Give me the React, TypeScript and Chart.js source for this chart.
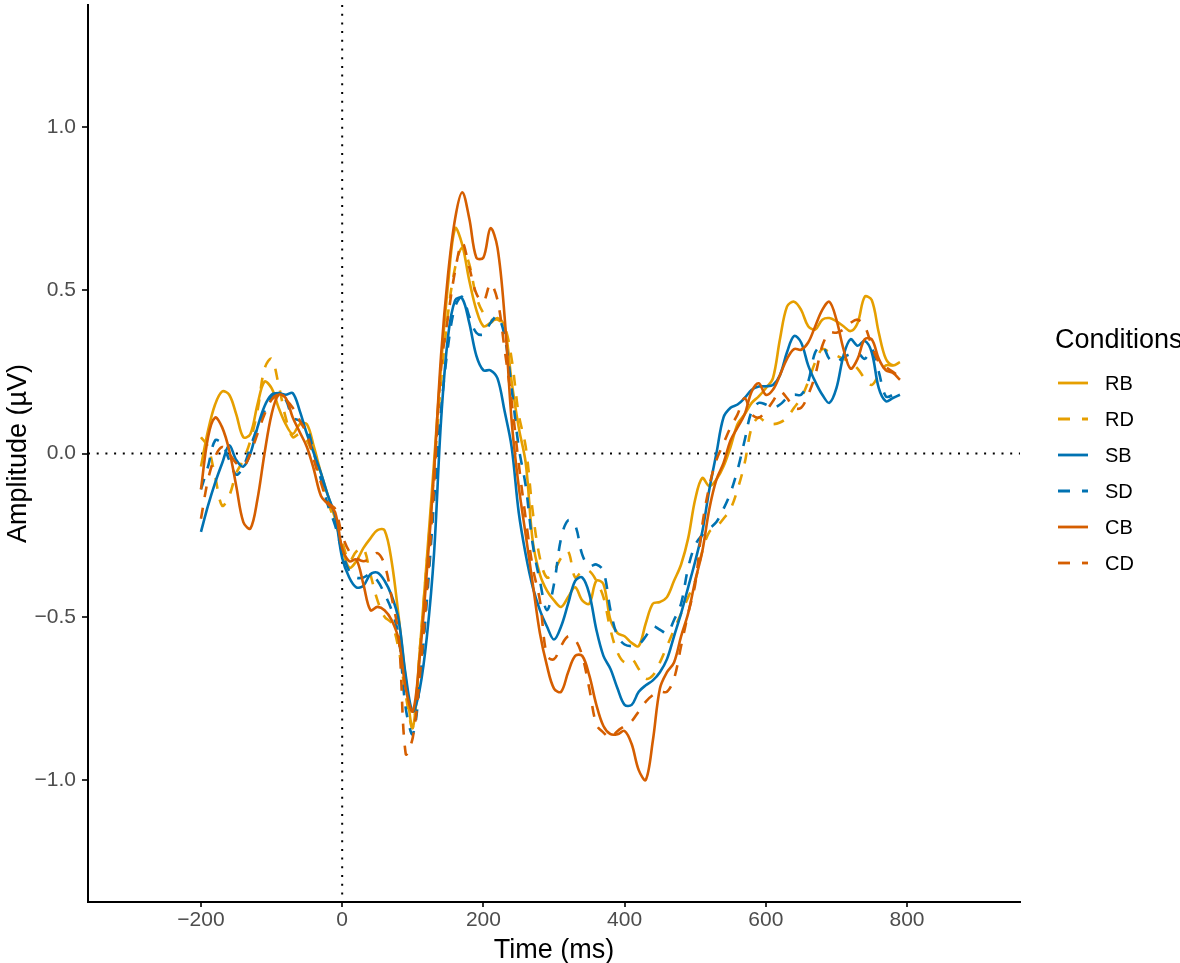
import { useEffect, useRef } from "react";
import { Chart, registerables } from "chart.js";

Chart.register(...registerables);

// Time grid (ms)
const times: number[] = [
  -200, -190, -180, -170, -160, -150, -140, -130, -120, -110,
  -100, -90, -80, -70, -60, -50, -40, -30, -20, -10,
  0, 10, 20, 30, 40, 50, 60, 70, 80, 90,
  100, 110, 120, 130, 140, 150, 160, 170, 180, 190,
  200, 210, 220, 230, 240, 250, 260, 270, 280, 290,
  300, 310, 320, 330, 340, 350, 360, 370, 380, 390,
  400, 410, 420, 430, 440, 450, 460, 470, 480, 490,
  500, 510, 520, 530, 540, 550, 560, 570, 580, 590,
  600, 610, 620, 630, 640, 650, 660, 670, 680, 690,
  700, 710, 720, 730, 740, 750, 760, 770, 780, 790,
];

const RB: number[] = [
  -0.04, 0.07, 0.15, 0.19, 0.18, 0.12, 0.05, 0.06, 0.15, 0.22,
  0.20, 0.14, 0.09, 0.06, 0.09, 0.09, 0.02, -0.06, -0.13, -0.20,
  -0.29, -0.35, -0.33, -0.29, -0.26, -0.235, -0.235, -0.33, -0.50, -0.69,
  -0.84, -0.60, -0.32, -0.03, 0.27, 0.52, 0.69, 0.64, 0.53, 0.44,
  0.39, 0.40, 0.415, 0.39, 0.22, 0.08, -0.03, -0.27, -0.37, -0.42,
  -0.45, -0.47, -0.44, -0.41, -0.45, -0.46, -0.39, -0.40, -0.51, -0.55,
  -0.56, -0.58, -0.59, -0.52, -0.46, -0.455, -0.44, -0.39, -0.34, -0.26,
  -0.14, -0.075, -0.10, -0.08, -0.04, 0.02, 0.09, 0.12, 0.155, 0.175,
  0.20, 0.23, 0.35, 0.45, 0.465, 0.44, 0.39, 0.38, 0.41, 0.415,
  0.405, 0.39, 0.375, 0.40, 0.48, 0.47, 0.37, 0.29, 0.27, 0.28,
];

const RD: number[] = [
  0.05, 0.02, -0.07, -0.16, -0.13, -0.06, -0.02, 0.04, 0.13, 0.26,
  0.29, 0.21, 0.11, 0.05, 0.06, 0.04, -0.01, -0.08, -0.15, -0.21,
  -0.27, -0.33, -0.30, -0.29, -0.37, -0.45, -0.50, -0.52, -0.60, -0.74,
  -0.84, -0.60, -0.33, -0.06, 0.22, 0.43, 0.57, 0.63, 0.58, 0.48,
  0.43, 0.41, 0.41, 0.39, 0.29, 0.12, 0.02, -0.18, -0.32, -0.38,
  -0.36, -0.32, -0.30, -0.38, -0.36, -0.36, -0.39, -0.44, -0.54, -0.61,
  -0.64, -0.63, -0.66, -0.69, -0.68, -0.64, -0.59, -0.54, -0.49, -0.44,
  -0.39, -0.30, -0.24, -0.225, -0.20, -0.17, -0.11, -0.03, 0.08, 0.11,
  0.095, 0.09, 0.095, 0.11, 0.14, 0.17, 0.22, 0.28, 0.32, 0.31,
  0.30, 0.29, 0.28, 0.26, 0.23, 0.21, 0.24, 0.27, 0.27, 0.28,
];

const SB: number[] = [
  -0.24, -0.16, -0.09, -0.03, 0.025, -0.02, -0.04, 0.0, 0.08, 0.145,
  0.18, 0.185, 0.18, 0.185, 0.13, 0.06, 0.0, -0.06, -0.13, -0.19,
  -0.32, -0.38, -0.41, -0.405, -0.37, -0.365, -0.39, -0.435, -0.51, -0.68,
  -0.79, -0.72, -0.56, -0.31, 0.10, 0.36, 0.47, 0.475, 0.40, 0.30,
  0.255, 0.255, 0.23, 0.13, 0.02, -0.18, -0.31, -0.41, -0.48, -0.53,
  -0.57, -0.53, -0.46, -0.39, -0.38, -0.43, -0.54, -0.62, -0.66, -0.72,
  -0.77, -0.77, -0.73, -0.71, -0.695, -0.67, -0.63, -0.56, -0.49, -0.41,
  -0.33, -0.24, -0.11, 0.0, 0.11, 0.14, 0.15, 0.17, 0.195, 0.205,
  0.206, 0.21, 0.24, 0.31, 0.36, 0.34, 0.27, 0.22, 0.18, 0.155,
  0.20, 0.30, 0.35, 0.33, 0.345, 0.31, 0.20, 0.16, 0.17, 0.18,
];

const SD: number[] = [
  -0.11, -0.04, 0.04, 0.03, -0.02, -0.065, -0.04, 0.02, 0.08, 0.13,
  0.175, 0.185, 0.165, 0.11, 0.10, 0.08, 0.0, -0.08, -0.16, -0.22,
  -0.30, -0.36, -0.38, -0.38, -0.37, -0.39, -0.43, -0.48, -0.56, -0.78,
  -0.86, -0.70, -0.45, -0.15, 0.13, 0.33, 0.45, 0.48, 0.42, 0.37,
  0.365, 0.40, 0.42, 0.36, 0.20, 0.02, -0.10, -0.28, -0.39, -0.48,
  -0.40, -0.26, -0.205, -0.22, -0.31, -0.345, -0.34, -0.36, -0.48, -0.56,
  -0.585, -0.59, -0.585, -0.56, -0.53, -0.54, -0.55, -0.51, -0.46, -0.35,
  -0.28, -0.25, -0.23, -0.21, -0.17, -0.12, -0.05, 0.04, 0.13, 0.155,
  0.15, 0.14, 0.15, 0.17, 0.18, 0.18, 0.22, 0.31, 0.33, 0.29,
  0.28, 0.295, 0.305, 0.31, 0.29, 0.32, 0.25, 0.175, 0.18, 0.20,
];

const CB: number[] = [
  -0.11, 0.05, 0.11, 0.08, 0.01, -0.10, -0.21, -0.23, -0.14, 0.0,
  0.12, 0.18, 0.17, 0.11, 0.065, 0.02, -0.05, -0.13, -0.155, -0.18,
  -0.29, -0.33, -0.325, -0.40, -0.48, -0.47, -0.48, -0.51, -0.57, -0.72,
  -0.79, -0.62, -0.36, -0.06, 0.30, 0.55, 0.72, 0.80, 0.72, 0.60,
  0.60, 0.69, 0.63, 0.42, 0.10, -0.10, -0.25, -0.40, -0.55, -0.65,
  -0.72, -0.73, -0.67, -0.62, -0.62, -0.68, -0.77, -0.835, -0.86, -0.86,
  -0.85, -0.89, -0.97, -1.0, -0.88, -0.72, -0.67, -0.64, -0.56, -0.49,
  -0.39, -0.30, -0.17, -0.08, -0.03, 0.04, 0.08, 0.12, 0.19, 0.215,
  0.18, 0.195, 0.24, 0.29, 0.32, 0.318, 0.34, 0.39, 0.44, 0.465,
  0.41, 0.32, 0.26, 0.29, 0.35, 0.35, 0.29, 0.255, 0.247, 0.226,
];

const CD: number[] = [
  -0.20, -0.08, -0.01, 0.02, 0.0, -0.03, -0.04, 0.0, 0.06, 0.12,
  0.165, 0.18, 0.165, 0.14, 0.10, 0.06, -0.02, -0.09, -0.15, -0.17,
  -0.25, -0.30, -0.32, -0.33, -0.32, -0.305, -0.34, -0.44, -0.56, -0.92,
  -0.87, -0.68, -0.42, -0.10, 0.26, 0.42, 0.56, 0.645, 0.57, 0.49,
  0.465, 0.52, 0.47, 0.32, 0.16, -0.03, -0.20, -0.35, -0.45, -0.62,
  -0.63, -0.59, -0.56, -0.57, -0.62, -0.72, -0.83, -0.855, -0.87, -0.85,
  -0.835, -0.82, -0.79, -0.76, -0.74, -0.73, -0.73, -0.69, -0.59, -0.49,
  -0.40, -0.22, -0.10, -0.02, 0.03, 0.08, 0.12, 0.17, 0.12, 0.11,
  0.13, 0.16, 0.19, 0.17, 0.14, 0.14, 0.18, 0.24, 0.33, 0.37,
  0.37, 0.38, 0.40, 0.41, 0.39, 0.33, 0.28, 0.265, 0.25, 0.235,
];

const conditionLabels: string[] = ["RB", "RD", "SB", "SD", "CB", "CD"];
const conditionValues: number[][] = [RB, RD, SB, SD, CB, CD];
const conditionColors: string[] = ["#E69F00", "#E69F00", "#0072B2", "#0072B2", "#D55E00", "#D55E00"];
const conditionDashed: boolean[] = [false, true, false, true, false, true];

const xTickValues: number[] = [-200, 0, 200, 400, 600, 800];
const yTickValues: number[] = [-1.0, -0.5, 0.0, 0.5, 1.0];

const FONT = "'Liberation Sans', Arial, Helvetica, sans-serif";
const DASH = [11, 11];

const minus = (s: string) => s.replace("-", "\u2212");

const overlayPlugin = {
  id: "overlay",
  beforeDatasetsDraw(chart: any) {
    const { ctx, chartArea, scales } = chart;
    const y0 = scales.y.getPixelForValue(0);
    const x0 = scales.x.getPixelForValue(0);
    ctx.save();
    ctx.strokeStyle = "#000";
    ctx.lineWidth = 2;
    ctx.lineCap = "butt";
    ctx.setLineDash([2, 6.7]);
    ctx.beginPath();
    ctx.moveTo(chartArea.left, y0);
    ctx.lineTo(chartArea.right, y0);
    ctx.stroke();
    ctx.beginPath();
    ctx.moveTo(x0, chartArea.top);
    ctx.lineTo(x0, chartArea.bottom);
    ctx.stroke();
    ctx.restore();
  },
  afterDraw(chart: any) {
    const { ctx, chartArea } = chart;
    ctx.save();
    ctx.fillStyle = "#000";
    // axis titles
    ctx.font = `27px ${FONT}`;
    ctx.textAlign = "center";
    ctx.textBaseline = "alphabetic";
    ctx.fillText("Time (ms)", (chartArea.left + chartArea.right) / 2, 958);
    ctx.save();
    ctx.translate(26, (chartArea.top + chartArea.bottom) / 2);
    ctx.rotate(-Math.PI / 2);
    ctx.fillText("Amplitude (\u00B5V)", 0, 0);
    ctx.restore();
    // legend
    ctx.textAlign = "left";
    ctx.textBaseline = "middle";
    ctx.font = `27px ${FONT}`;
    ctx.fillText("Conditions", 1055, 341);
    ctx.font = `20px ${FONT}`;
    conditionLabels.forEach((lab, i) => {
      const y = 383 + 36 * i;
      ctx.save();
      ctx.strokeStyle = conditionColors[i];
      ctx.lineWidth = 2.8;
      ctx.lineCap = "butt";
      ctx.setLineDash(conditionDashed[i] ? [12, 12] : []);
      ctx.beginPath();
      ctx.moveTo(1058, y);
      ctx.lineTo(1088, y);
      ctx.stroke();
      ctx.restore();
      ctx.fillStyle = "#000";
      ctx.fillText(lab, 1105, y + 1);
    });
    ctx.restore();
  },
};

export default function App() {
  const ref = useRef<HTMLCanvasElement>(null);
  useEffect(() => {
    document.body.style.margin = "0";
    const datasets = conditionLabels.map((lab, i) => ({
      label: lab,
      data: times.map((t, j) => ({ x: t, y: conditionValues[i][j] })),
      borderColor: conditionColors[i],
      backgroundColor: conditionColors[i],
      borderWidth: 2.6,
      borderDash: conditionDashed[i] ? DASH : [],
      borderCapStyle: "butt" as const,
      borderJoinStyle: "round" as const,
      pointRadius: 0,
      tension: 0.35,
      fill: false,
      order: conditionLabels.length - i,
    }));
    const chart = new Chart(ref.current!, {
      type: "line",
      data: { datasets },
      options: {
        animation: false,
        responsive: false,
        devicePixelRatio: 1,
        layout: { padding: { left: 0, right: 160, top: 5, bottom: 0 } },
        plugins: { legend: { display: false }, tooltip: { enabled: false } },
        scales: {
          x: {
            type: "linear",
            min: -360,
            max: 960,
            afterBuildTicks: (s: any) => {
              s.ticks = xTickValues.map((v) => ({ value: v }));
            },
            afterFit: (s: any) => {
              s.height = 61;
              s.paddingLeft = 0;
              s.paddingRight = 0;
            },
            ticks: {
              font: { family: FONT, size: 21 },
              color: "#4D4D4D",
              padding: 1,
              maxRotation: 0,
              autoSkip: false,
              callback: (v: any) => minus(String(v)),
            },
            grid: { drawOnChartArea: false, drawTicks: true, tickLength: 5, color: "#333333", lineWidth: 2 },
            border: { display: true, color: "#000", width: 2 },
          },
          y: {
            type: "linear",
            min: -1.374,
            max: 1.374,
            afterBuildTicks: (s: any) => {
              s.ticks = yTickValues.map((v) => ({ value: v }));
            },
            afterFit: (s: any) => {
              s.width = 88;
              s.paddingTop = 0;
              s.paddingBottom = 0;
            },
            ticks: {
              font: { family: FONT, size: 21 },
              color: "#4D4D4D",
              padding: 6,
              autoSkip: false,
              callback: (v: any) => minus(Number(v).toFixed(1)),
            },
            grid: { drawOnChartArea: false, drawTicks: true, tickLength: 6, color: "#333333", lineWidth: 2 },
            border: { display: true, color: "#000", width: 2 },
          },
        },
      },
      plugins: [overlayPlugin],
    } as any);
    return () => chart.destroy();
  }, []);
  return (
    <div style={{ position: "absolute", left: 0, top: 0, width: 1180, height: 963 }}>
      <canvas ref={ref} width={1180} height={963} style={{ display: "block", width: 1180, height: 963 }} />
    </div>
  );
}
